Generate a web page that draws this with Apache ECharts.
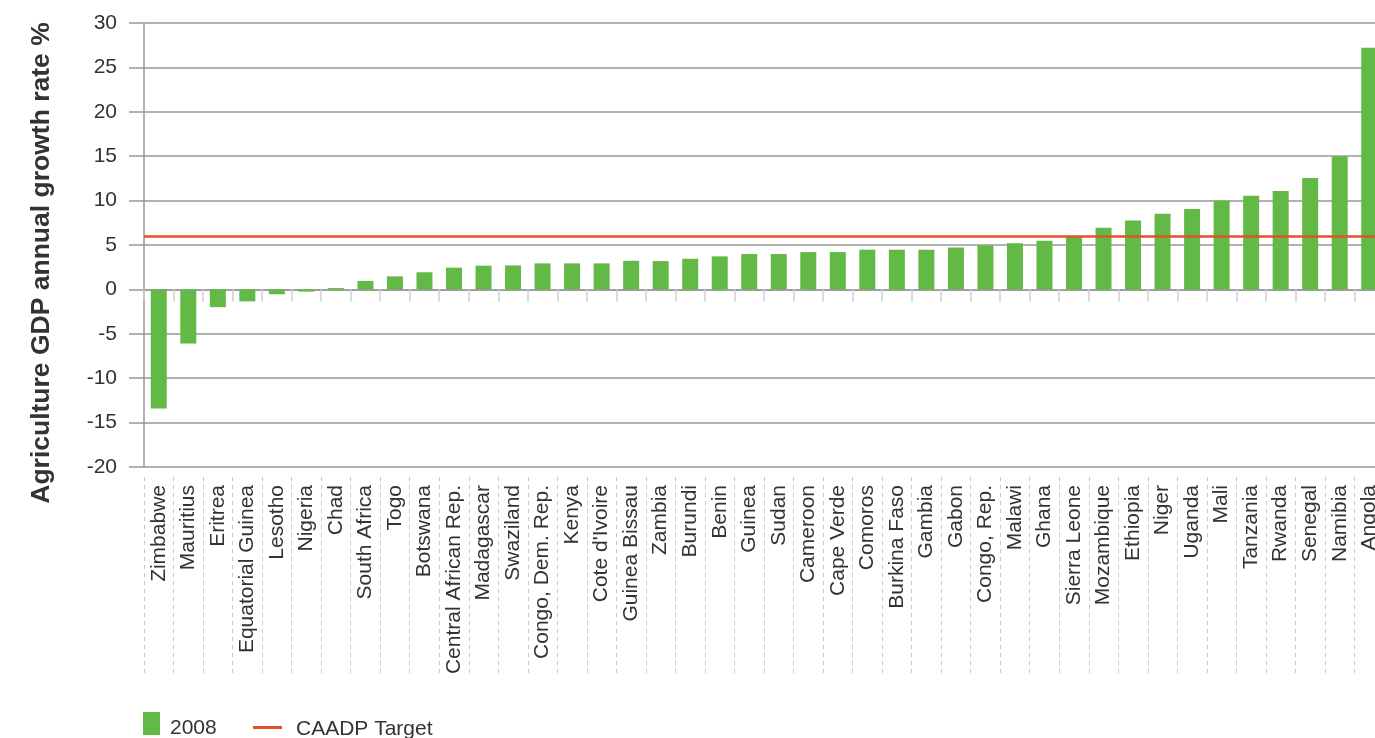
<!DOCTYPE html>
<html>
<head>
<meta charset="utf-8">
<title>Agriculture GDP annual growth rate, 2008</title>
<script src="https://cdn.jsdelivr.net/npm/echarts@6/dist/echarts.min.js"></script>
<style>
  html, body { margin: 0; padding: 0; background: #ffffff; overflow: hidden; }
  /* the plot runs slightly past the right edge of the window, so the last bar is cut */
  #chart { width: 1384px; height: 738px; }
</style>
</head>
<body>
<div id="chart"></div>
<script>
// Countries, sorted by 2008 agricultural GDP growth
const countries = [
  'Zimbabwe', 'Mauritius', 'Eritrea', 'Equatorial Guinea', 'Lesotho', 'Nigeria',
  'Chad', 'South Africa', 'Togo', 'Botswana', 'Central African Rep.', 'Madagascar',
  'Swaziland', 'Congo, Dem. Rep.', 'Kenya', "Cote d'Ivoire", 'Guinea Bissau', 'Zambia',
  'Burundi', 'Benin', 'Guinea', 'Sudan', 'Cameroon', 'Cape Verde', 'Comoros',
  'Burkina Faso', 'Gambia', 'Gabon', 'Congo, Rep.', 'Malawi', 'Ghana', 'Sierra Leone',
  'Mozambique', 'Ethiopia', 'Niger', 'Uganda', 'Mali', 'Tanzania', 'Rwanda',
  'Senegal', 'Namibia', 'Angola'
];

// Agriculture GDP annual growth rate (%) in 2008
const growth2008 = [
  -13.4, -6.1, -2.0, -1.35, -0.55, -0.25,
  0.15, 0.95, 1.47, 1.93, 2.45, 2.67,
  2.7, 2.93, 2.93, 2.93, 3.22, 3.19,
  3.45, 3.72, 3.98, 3.98, 4.2, 4.2, 4.47,
  4.47, 4.47, 4.72, 4.97, 5.2, 5.48, 6.0,
  6.94, 7.77, 8.52, 9.05, 10.0, 10.55, 11.07,
  12.54, 15.0, 27.2
];

// CAADP growth target (%)
const caadpTarget = 6;

// Value axis range and step
const yMin = -20;
const yMax = 30;
const yStep = 5;

const FONT = '"Liberation Sans", Arial, sans-serif';
const TEXT = '#333333';
const GRID = '#999999';
const GREEN = '#62b946';
const RED = '#e5502a';

const chart = echarts.init(document.getElementById('chart'), null, { renderer: 'canvas' });

chart.setOption({
  animation: false,
  backgroundColor: '#ffffff',
  textStyle: { fontFamily: FONT },
  grid: { left: 144, top: 23, bottom: 271, right: 0, containLabel: false },
  xAxis: [
    {
      // axis running along zero, with short ticks between countries
      type: 'category',
      data: countries,
      position: 'bottom',
      axisLine: { show: true, onZero: true, lineStyle: { color: GRID, width: 1.5 } },
      axisTick: { show: true, interval: 0, length: 12, lineStyle: { color: '#cfcfcf', width: 1.5 } },
      axisLabel: { show: false, interval: 0 },
      splitLine: { show: false }
    },
    {
      // country labels below the plot, separated by dashed guides
      type: 'category',
      data: countries,
      position: 'bottom',
      offset: 10,
      axisLine: { show: false, onZero: false },
      axisTick: { show: true, interval: 0, length: 196, lineStyle: { color: '#c8c8c8', width: 1, type: [4, 4] } },
      axisLabel: {
        show: true,
        interval: 0,
        rotate: 90,
        margin: 8,
        fontSize: 21,
        color: TEXT,
        fontFamily: FONT
      },
      splitLine: { show: false }
    }
  ],
  yAxis: {
    type: 'value',
    min: yMin,
    max: yMax,
    interval: yStep,
    axisLine: { show: true, onZero: false, lineStyle: { color: GRID, width: 1.5 } },
    axisTick: { show: true, length: 15, lineStyle: { color: GRID, width: 1.5 } },
    axisLabel: { margin: 27, fontSize: 21, color: TEXT, fontFamily: FONT },
    splitLine: { show: true, lineStyle: { color: GRID, width: 1.5 } }
  },
  legend: [
    {
      data: ['2008'],
      left: 143,
      top: 712,
      padding: 0,
      itemWidth: 17,
      itemHeight: 23,
      icon: 'rect',
      formatter: '{t|{name}}',
      textStyle: {
        color: TEXT,
        fontFamily: FONT,
        fontSize: 21,
        rich: { t: { fontSize: 21, color: TEXT, fontFamily: FONT, padding: [10, 0, 0, 5] } }
      }
    },
    {
      data: ['CAADP Target'],
      left: 253,
      top: 719,
      padding: 0,
      itemWidth: 29,
      itemHeight: 3,
      icon: 'rect',
      formatter: '{t|{name}}',
      textStyle: {
        color: TEXT,
        fontFamily: FONT,
        fontSize: 21,
        rich: { t: { fontSize: 21, color: TEXT, fontFamily: FONT, padding: [4, 0, 0, 9] } }
      }
    }
  ],
  series: [
    {
      name: '2008',
      type: 'bar',
      xAxisIndex: 0,
      data: growth2008,
      barWidth: 16,
      itemStyle: { color: GREEN },
      z: 2
    },
    {
      name: 'CAADP Target',
      type: 'line',
      xAxisIndex: 0,
      data: [],
      symbol: 'none',
      itemStyle: { color: RED },
      lineStyle: { color: RED, width: 2.5 },
      markLine: {
        silent: true,
        symbol: ['none', 'none'],
        label: { show: false },
        lineStyle: { color: RED, width: 2.5, type: 'solid' },
        data: [{ yAxis: caadpTarget }]
      },
      z: 5
    }
  ],
  graphic: [
    {
      type: 'text',
      x: 42,
      y: 263,
      rotation: Math.PI / 2,
      style: {
        text: 'Agriculture GDP annual growth rate %',
        fontSize: 26.5,
        fontWeight: 'bold',
        fontFamily: FONT,
        fill: TEXT,
        align: 'center',
        verticalAlign: 'middle'
      }
    }
  ]
});
</script>
</body>
</html>
